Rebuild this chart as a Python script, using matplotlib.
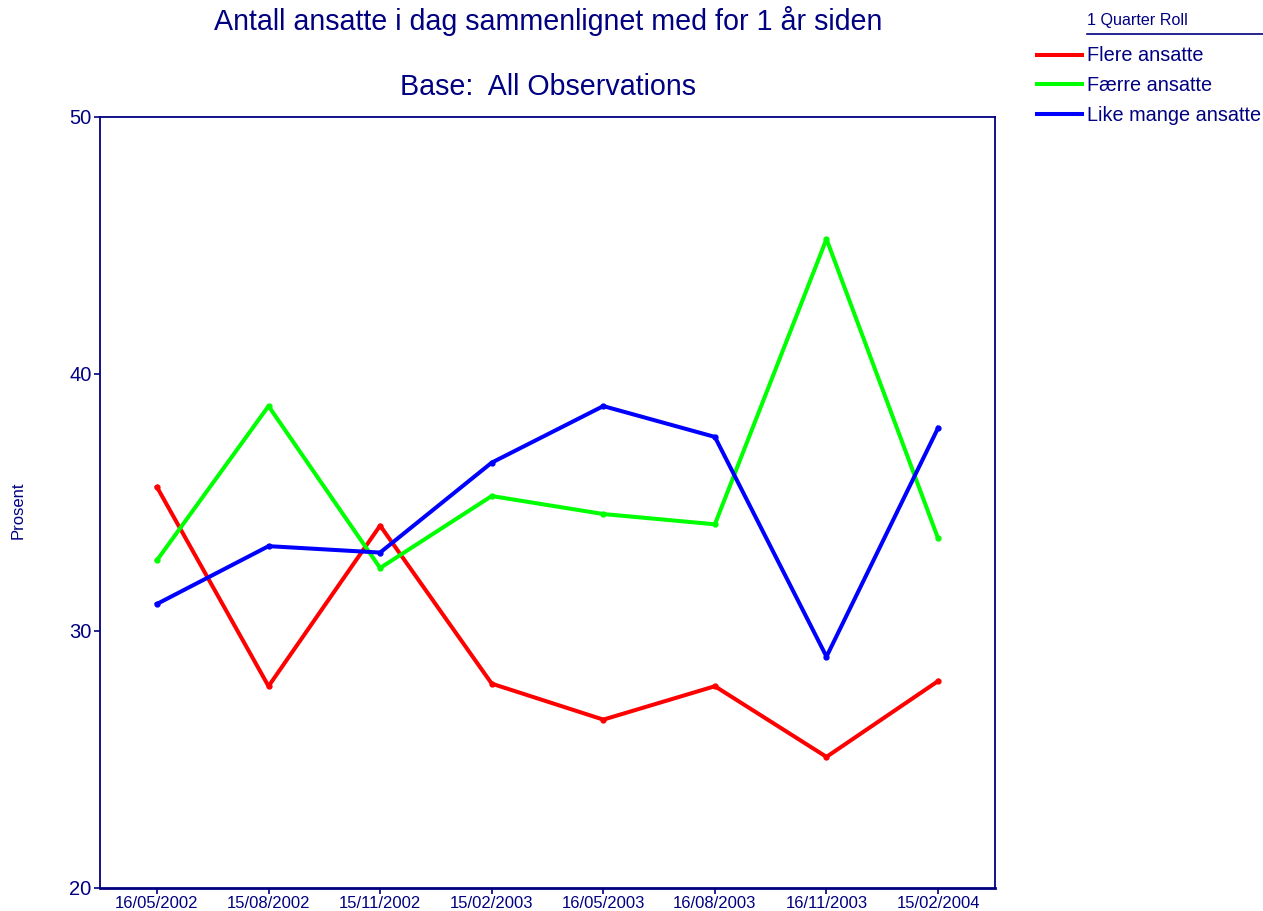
#/usr/bin/env python3
import matplotlib
matplotlib.use("Agg")
import matplotlib.pyplot as plt
from matplotlib.lines import Line2D

plt.rcParams['font.family'] = ['Liberation Sans', 'DejaVu Sans']

dates = ["16/05/2002", "15/08/2002", "15/11/2002", "15/02/2003",
         "16/05/2003", "16/08/2003", "16/11/2003", "15/02/2004"]
flere = [35.6, 27.85, 34.1, 27.95, 26.55, 27.85, 25.1, 28.05]
faerre = [32.75, 38.75, 32.45, 35.25, 34.55, 34.15, 45.25, 33.6]
like_mange = [31.05, 33.3, 33.05, 36.55, 38.75, 37.55, 29.0, 37.9]
yticks = [20, 30, 40, 50]

navy = "#000080"


def main():
    fig = plt.figure(figsize=(12.63, 9.11), dpi=100)
    ax = fig.add_axes([0.0792, 0.0253, 0.7086, 0.8463])

    x = range(len(dates))
    ax.plot(x, flere, color="#ff0000", lw=2.9, marker="o", ms=3.5,
            solid_joinstyle="round", label="Flere ansatte")
    ax.plot(x, faerre, color="#00ff00", lw=2.9, marker="o", ms=3.5,
            solid_joinstyle="round", label="Færre ansatte")
    ax.plot(x, like_mange, color="#0000ff", lw=2.9, marker="o", ms=3.5,
            solid_joinstyle="round", label="Like mange ansatte")

    ax.set_xlim(-0.51, len(dates) - 0.49)
    ax.set_ylim(20, 50)
    ax.set_xticks(list(x))
    ax.set_xticklabels(dates, fontsize=12, color=navy)
    ax.set_yticks(yticks)
    ax.set_yticklabels([str(v) for v in yticks], fontsize=14.5, color=navy)
    ax.tick_params(axis="both", colors=navy, length=4, width=1.2, direction="out")
    ax.tick_params(axis="x", pad=2)
    ax.tick_params(axis="y", pad=2)
    for side in ["left", "bottom", "top", "right"]:
        ax.spines[side].set_color(navy)
        ax.spines[side].set_linewidth(1.3)
    ax.spines["bottom"].set_linewidth(2)

    ax.set_ylabel("Prosent", fontsize=12, color=navy)
    ax.yaxis.set_label_coords(-0.083, 0.49)

    fig.text(0.434, 0.977, "Antall ansatte i dag sammenlignet med for 1 år siden",
             ha="center", va="center", fontsize=20.6, color=navy)
    fig.text(0.434, 0.905, "Base:  All Observations",
             ha="center", va="center", fontsize=20.6, color=navy)

    # legend block at the top right
    fig.text(0.861, 0.978, "1 Quarter Roll", ha="left", va="center",
             fontsize=11.6, color=navy)
    fig.add_artist(Line2D([0.861, 1.0], [0.9627, 0.9627], color=navy, lw=1.2))
    leg = ax.legend(loc="upper left", bbox_to_anchor=(0.821, 0.949),
                    bbox_transform=fig.transFigure, frameon=False,
                    fontsize=14.3, handlelength=2.26, handletextpad=0.25,
                    labelspacing=0.55, borderaxespad=0, borderpad=0)
    for line in leg.get_lines():
        line.set_marker("")
    for t in leg.get_texts():
        t.set_color(navy)

    plt.savefig("out.png", dpi=100)


if __name__ == "__main__":
    main()
